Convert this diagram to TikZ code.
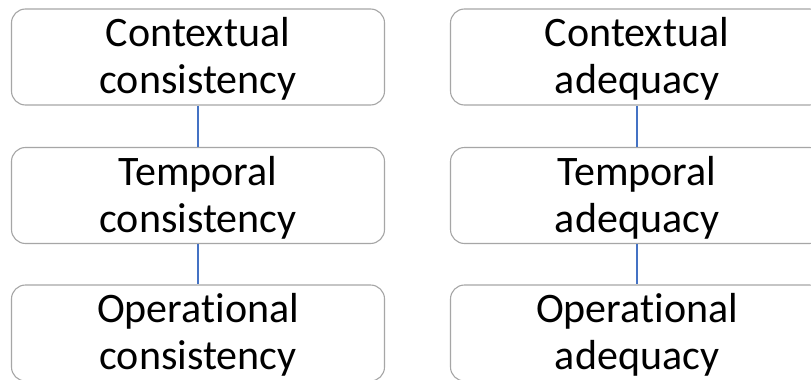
\documentclass[tikz,border=0pt]{standalone}
\usepackage{fontspec}
\setmainfont{Carlito}[Ligatures={NoCommon,NoRequired,NoContextual}]
\definecolor{boxgray}{HTML}{A6A6A6}
\definecolor{linkblue}{HTML}{4472C4}
\begin{document}
\begin{tikzpicture}[x=1pt,y=-1pt,
  box/.style={draw=boxgray, line width=1.1pt, rounded corners=14pt, minimum width=373pt, minimum height=96pt, inner sep=0pt},
  boxtext/.style={align=center, inner sep=0pt, yshift=-2pt, font=\fontsize{42}{47}\selectfont, text=black},
  link/.style={draw=linkblue, line width=1.2pt}]
\useasboundingbox (0,0) rectangle (811,380);
\clip (0,0) rectangle (811,380);
\fill[white] (0,0) rectangle (811,380);
\node[box] (cc) at (198,57) {};
\node[box] (tc) at (198,195.5) {};
\node[box] (oc) at (198,333) {};
\node[box] (ca) at (637,57) {};
\node[box] (ta) at (637,195.5) {};
\node[box] (oa) at (637,333) {};
\node[boxtext] (cct) at (cc) {Contextual\\consistency};
\node[boxtext] (tct) at (tc) {Temporal\\consistency};
\node[boxtext] (oct) at (oc) {Operational\\consistency};
\node[boxtext] (cat) at (ca) {Contextual\\adequacy};
\node[boxtext] (tat) at (ta) {Temporal\\adequacy};
\node[boxtext] (oat) at (oa) {Operational\\adequacy};
\draw[link] (cc) -- (tc);
\draw[link] (tc) -- (oc);
\draw[link] (ca) -- (ta);
\draw[link] (ta) -- (oa);
\end{tikzpicture}
\end{document}
